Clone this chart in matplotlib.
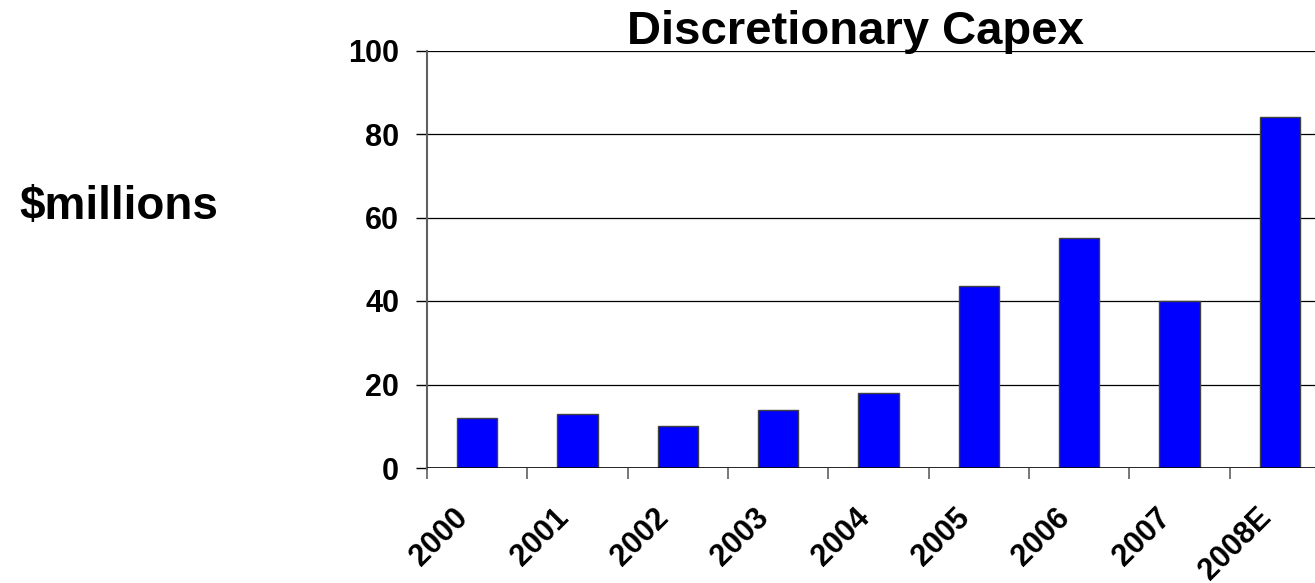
import matplotlib
matplotlib.use("Agg")
import matplotlib.pyplot as plt
import matplotlib.transforms as mtransforms
import numpy as np

categories = ["2000", "2001", "2002", "2003", "2004", "2005", "2006", "2007", "2008E"]
capex = [12, 13, 10, 14, 18, 43.5, 55, 40, 84]
yticks = [0, 20, 40, 60, 80, 100]

plt.rcParams['font.family'] = ['Liberation Sans', 'DejaVu Sans']
plt.rcParams['font.weight'] = 'bold'

W, H = 1315, 583
fig = plt.figure(figsize=(W / 100, H / 100), dpi=100)
ax = fig.add_axes([427 / W, 115 / H, 903 / W, 417.5 / H])

x = np.arange(len(categories))
ax.bar(x, capex, width=0.4, color='#0000FF', edgecolor='#404040', linewidth=1.0, zorder=3)

ax.set_xlim(-0.5, len(categories) - 0.5)
ax.set_ylim(0, 100)
ax.set_yticks(yticks)
ax.set_yticklabels([str(v) for v in yticks], fontsize=22, fontweight='bold')
for v in yticks[1:]:
    ax.axhline(v, color='black', linewidth=0.9, zorder=1)
ax.axhline(0, color='black', linewidth=1.2, zorder=4)

ax.set_xticks(x)
ax.set_xticklabels(categories, fontsize=22, fontweight='bold', rotation=45,
                   ha='right', va='top', rotation_mode='anchor')
ax.tick_params(axis='x', which='major', length=0, pad=25)
offset = mtransforms.ScaledTranslation(-24 / 100, 0, fig.dpi_scale_trans)
for lbl in ax.get_xticklabels():
    lbl.set_transform(lbl.get_transform() + offset)
ax.set_xticks(np.arange(len(categories)) - 0.5, minor=True)
ax.tick_params(axis='x', which='minor', length=8, width=1.2, color='#606060', direction='out')
ax.tick_params(axis='y', length=8, width=1.0, color='black', direction='out', pad=12)

for s in ['top', 'right', 'bottom']:
    ax.spines[s].set_visible(False)
ax.spines['left'].set_color('#606060')
ax.spines['left'].set_linewidth(1.5)

fig.text(855 / W, 1 - 10 / H, "Discretionary Capex", ha='center', va='top',
         fontsize=34, fontweight='bold')
fig.text(218 / W, 1 - 207 / H, "$millions", ha='right', va='center',
         fontsize=33, fontweight='bold')

fig.savefig("out.png", dpi=100)
